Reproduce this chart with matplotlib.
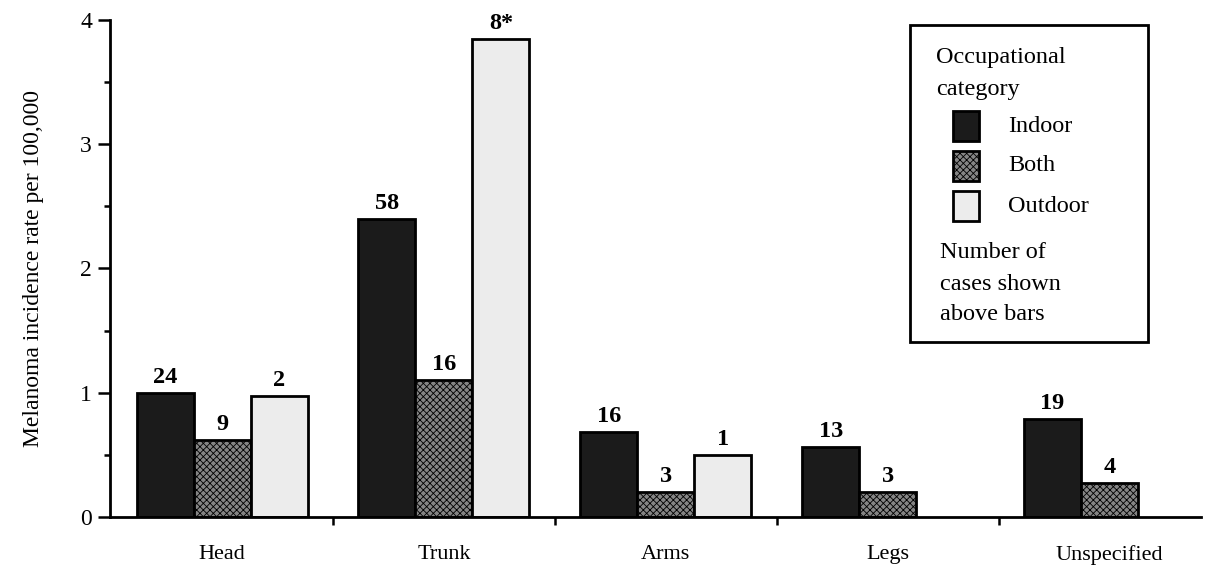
import numpy as np
import matplotlib
matplotlib.use("Agg")
import matplotlib.pyplot as plt
from matplotlib.patches import Rectangle

plt.rcParams['font.family'] = ['Liberation Serif', 'DejaVu Serif']
plt.rcParams['hatch.linewidth'] = 0.6

sites = ['Head', 'Trunk', 'Arms', 'Legs', 'Unspecified']
categories = ['Indoor', 'Both', 'Outdoor']
indoor = [1.0, 2.4, 0.68, 0.56, 0.79]
both = [0.62, 1.1, 0.2, 0.2, 0.27]
outdoor = [0.97, 3.85, 0.5, None, None]
indoor_n = ['24', '58', '16', '13', '19']
both_n = ['9', '16', '3', '3', '4']
outdoor_n = ['2', '8*', '1', None, None]

series = [indoor, both, outdoor]
counts = [indoor_n, both_n, outdoor_n]
faces = ['#1b1b1b', '#858585', '#ececec']
hatches = [None, 'xxxxx', None]

W, H = 1209, 568
fig = plt.figure(figsize=(W / 100, H / 100), dpi=100)
ax = fig.add_axes([0.091, 0.09, 0.902, 0.875])

w = 0.257
x = np.arange(len(sites))
for k in range(3):
    for i in range(len(sites)):
        v = series[k][i]
        if v is None:
            continue
        xp = x[i] + (k - 1) * w
        ax.bar(xp, v, width=w, color=faces[k], edgecolor='black', linewidth=2,
               hatch=hatches[k], zorder=2)
        ax.text(xp, v + 0.04, counts[k][i], ha='center', va='bottom',
                fontsize=17.5, fontweight='bold')

ax.set_xlim(-0.505, 4.41)
ax.set_ylim(0, 4)
ax.spines['top'].set_visible(False)
ax.spines['right'].set_visible(False)
ax.spines['left'].set_linewidth(2)
ax.spines['bottom'].set_linewidth(2)

ax.set_yticks([0, 1, 2, 3, 4])
ax.set_yticks(np.arange(0.5, 4, 1), minor=True)
ax.tick_params(axis='y', which='major', length=9, width=1.8, labelsize=17, pad=4)
ax.tick_params(axis='y', which='minor', length=4, width=1.8)

ax.set_xticks(x)
ax.set_xticklabels(sites, fontsize=16)
ax.tick_params(axis='x', which='major', length=0, pad=20)
ax.set_xticks(np.arange(0.5, 4, 1), minor=True)
ax.tick_params(axis='x', which='minor', length=6, width=1.8)

ax.set_ylabel('Melanoma incidence rate per 100,000', fontsize=17, labelpad=26)

# legend box drawn by hand
fig.patches.append(Rectangle((910 / W, 1 - 342 / H), 238 / W, 317 / H,
                             transform=fig.transFigure, fill=False,
                             edgecolor='black', linewidth=2))
fs = 17.5
fig.text(936 / W, 1 - 58 / H, 'Occupational', fontsize=fs, va='center')
fig.text(936 / W, 1 - 90 / H, 'category', fontsize=fs, va='center')
for k, name in enumerate(categories):
    yc = 126 + 40 * k
    fig.patches.append(Rectangle((953 / W, 1 - (yc + 15) / H), 26 / W, 30 / H,
                                 transform=fig.transFigure, facecolor=faces[k],
                                 edgecolor='black', linewidth=2, hatch=hatches[k]))
    fig.text(1008 / W, 1 - yc / H, name, fontsize=fs, va='center')
for j, line in enumerate(['Number of', 'cases shown', 'above bars']):
    fig.text(940 / W, 1 - (253 + 31 * j) / H, line, fontsize=fs, va='center')

fig.savefig('out.png', dpi=100)
